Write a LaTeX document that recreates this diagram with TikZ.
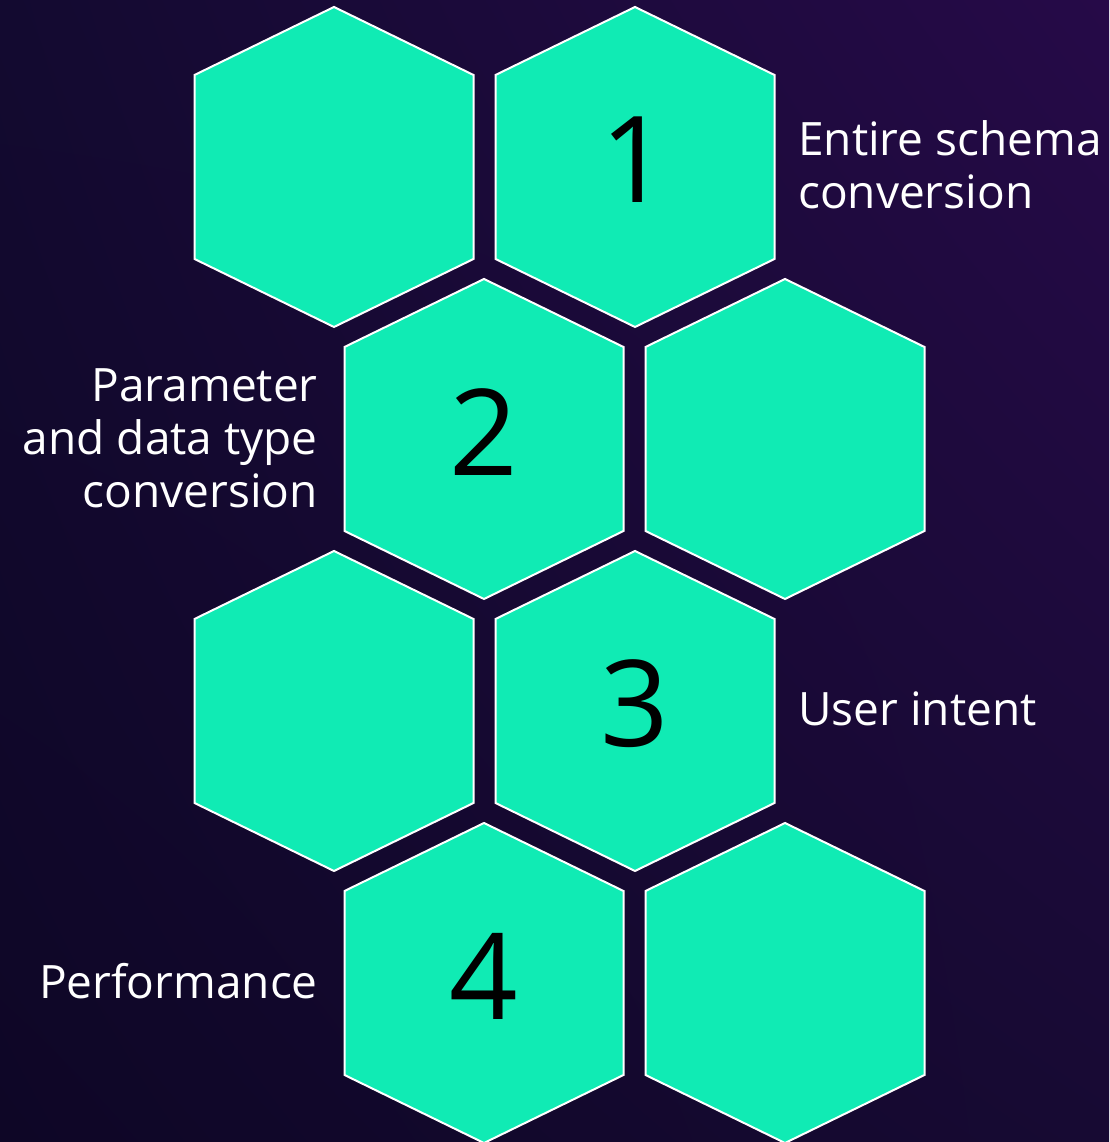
\documentclass[tikz,border=0pt]{standalone}
\usepackage{fontspec}
\setmainfont{Open Sans}
\usetikzlibrary{shadings}
\definecolor{mint}{HTML}{10EBB4}
\definecolor{bgUL}{HTML}{130A30}
\definecolor{bgUR}{HTML}{260A48}
\definecolor{bgLL}{HTML}{0E0626}
\definecolor{bgLR}{HTML}{170A33}
\tikzset{
  hexcell/.style={fill=mint, draw=white, line width=2pt, line join=miter},
  digit/.style={text=black, inner sep=0pt, font=\fontsize{120}{120}\selectfont},
  caption/.style={text=white, inner sep=0pt, font=\fontsize{46}{53}\selectfont},
}
% one honeycomb cell centred on a named coordinate
\newcommand\honeycell[3]{%
  \coordinate (#1) at (#2,#3);
  \path[hexcell] (#1) ++(0,160) -- ++(139.5,-68) -- ++(0,-184)
    -- ++(-139.5,-68) -- ++(-139.5,68) -- ++(0,184) -- cycle;
}
\begin{document}
\begin{tikzpicture}[x=1pt,y=1pt]
  \useasboundingbox (0,0) rectangle (1109,1142);
  \shade[upper left=bgUL, upper right=bgUR, lower left=bgLL, lower right=bgLR]
    (0,0) rectangle (1109,1142);

  % honeycomb, four staggered rows of two cells
  \honeycell{c1a}{334}{975}
  \honeycell{c1b}{635}{975}
  \honeycell{c2a}{484}{703}
  \honeycell{c2b}{785}{703}
  \honeycell{c3a}{334}{431}
  \honeycell{c3b}{635}{431}
  \honeycell{c4a}{484}{159}
  \honeycell{c4b}{785}{159}

  % step numbers
  \node[digit] (n1) at ([yshift=7pt]c1b) {1};
  \node[digit] (n2) at ([yshift=7pt]c2a) {2};
  \node[digit] (n3) at ([yshift=7pt]c3b) {3};
  \node[digit] (n4) at ([yshift=7pt]c4a) {4};

  % captions
  \node[caption, anchor=west, align=left] (t1) at (798,977) {Entire schema\\conversion};
  \node[caption, anchor=east, align=right] (t2) at (318,704) {Parameter\\and data type\\conversion};
  \node[caption, anchor=west] (t3) at (798,433) {User intent};
  \node[caption, anchor=east] (t4) at (318,161) {Performance};
\end{tikzpicture}
\end{document}
